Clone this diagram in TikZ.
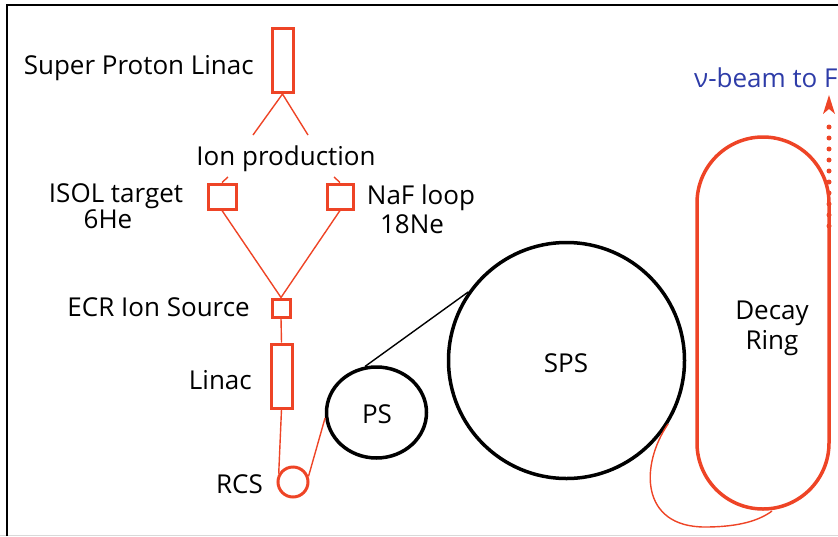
\documentclass[tikz,border=0pt]{standalone}
\usepackage{fontspec}
\setmainfont{Open Sans}
\usetikzlibrary{arrows.meta,shapes.geometric}
\definecolor{beamred}{HTML}{EE4426}
\definecolor{beamblue}{HTML}{2E3CA8}
\tikzset{
  redbox/.style={draw=beamred,line width=3pt,inner sep=0pt,minimum width=#1},
  redline/.style={draw=beamred,line width=1.4pt},
  blackline/.style={draw=black,line width=1.4pt},
  lbl/.style={font=\fontsize{26}{30}\selectfont,inner sep=0pt,text=black},
  ring/.style={draw=black,line width=3.5pt,inner sep=0pt},
}
\begin{document}
\begin{tikzpicture}[x=1pt,y=-1pt]
\useasboundingbox (0,0) rectangle (838,536);
% frame
\draw[black!15,line width=1pt] (0,535.5)--(838,535.5);
\draw[line width=2pt] (7,536)--(7,5)--(838,5);
% boxes
\node[redbox=21,minimum height=64] (spl) at (282.5,60.5) {};
\node[redbox=28,minimum height=25] (isol) at (222,196.5) {};
\node[redbox=26,minimum height=25] (naf) at (340,196.5) {};
\node[redbox=18,minimum height=18] (ecr) at (281,308) {};
\node[redbox=21,minimum height=64] (linac) at (281.5,376) {};
\node[circle,draw=beamred,line width=3pt,inner sep=0pt,minimum size=30] (rcs) at (293,482) {};
\node[ellipse,ring,minimum width=100,minimum height=91] (ps) at (376.5,412.5) {};
\node[circle,ring,minimum size=236] (sps) at (566.5,360.5) {};
\node[draw=beamred,line width=3.5pt,inner sep=0pt,minimum width=132,minimum height=372,rounded corners=66] (dring) at (763,323) {};
% labels
\node[lbl,anchor=east] (splt) at (254,68) {Super Proton Linac};
\node[lbl] (ionp) at (286,159) {Ion production};
\node[lbl] (isolt) at (116,196) {ISOL target};
\node[lbl] (he) at (108,219) {6He};
\node[lbl] (naft) at (421,198) {NaF loop};
\node[lbl] (ne) at (412,224) {18Ne};
\node[lbl,anchor=east] (ecrt) at (250,307) {ECR Ion Source};
\node[lbl,anchor=east] (linact) at (252,380) {Linac};
\node[lbl,anchor=east] (rcst) at (263,484) {RCS};
\node[lbl] (pst) at (377,414) {PS};
\node[lbl] (spst) at (566,363) {SPS};
\node[lbl] (decayt) at (772,313) {Decay};
\node[lbl] (ringt) at (772,343) {Ring};
\node[lbl,anchor=west,text=beamblue] (beamt) at (694,78) {ν-beam to F};
% connectors
\coordinate (ipl) at (253,135);
\coordinate (ipr) at (308,135);
\coordinate (ipbl) at (228,177);
\coordinate (ipbr) at (334,177);
\draw[redline] (ipl) -- (spl.south) -- (ipr);
\draw[redline] (ipbl) -- (isol.north);
\draw[redline] (ipbr) -- (naf.north);
\draw[redline] (isol.south) -- (ecr.north) -- (naf.south);
\draw[redline] (ecr.south) -- (linac.north);
\draw[redline] (linac.south) -- (rcs.150);
\draw[redline] (rcs.20) -- (ps.186);
\draw[blackline] (ps.104) -- (sps.145);
\coordinate (ringin) at (772,511);
\draw[redline] (sps.-32.4) .. controls (640,465) and (640,527) .. (705,527) .. controls (740,527) and (760,520) .. (ringin);
\coordinate (beamstart) at (829,226);
\coordinate (beamend) at (829,95);
\draw[beamred,line width=5pt,line cap=round,dash pattern=on 0pt off 11pt] (beamstart) -- ([yshift=-23pt]beamend);
\fill[beamred] (beamend) -- ++(-6,19) -- ++(6,-5) -- ++(6,5) -- cycle;
\end{tikzpicture}
\end{document}
